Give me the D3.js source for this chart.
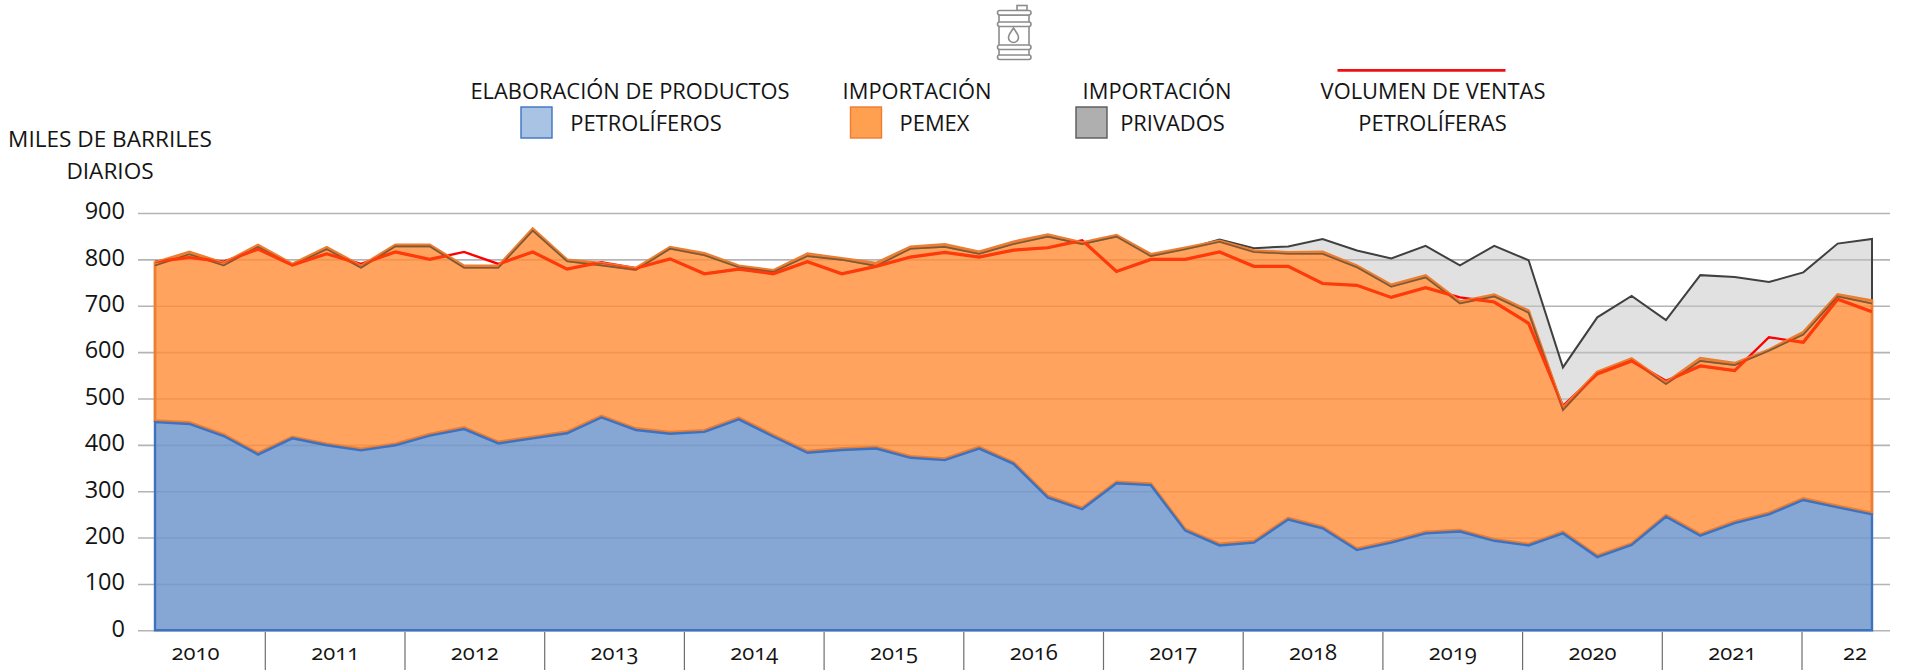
<!DOCTYPE html>
<html>
<head>
<meta charset="utf-8">
<script src="https://cdn.jsdelivr.net/npm/d3@7"></script>
<style>
  body { margin: 0; background: #fff; }
  text { font-family: "Open Sans", sans-serif; fill: #141414; }
</style>
</head>
<body>
<svg width="1912" height="670"></svg>
<script>
// Values, one per quarter from 2010
const elaboracion = [449,445,419,379,414,399,388,399,420,434,403,414,425,459,432,
  424,428,455,418,383,389,392,372,367,392,359,286,261,317,313,215,183,189,
  239,220,173,189,209,213,193,183,209,158,184,245,204,231,250,281,265,250];
const pemexTop = [793,816,792,831,790,826,786,831,831,786,786,866,799,792,781,
  826,813,786,776,812,802,792,827,832,816,838,853,836,852,811,825,840,819,
  815,816,786,745,765,709,724,689,480,557,586,534,587,576,605,643,724,711];
const privadosBase = [787,811,787,827,787,822,782,828,828,782,782,862,796,787,777,
  823,809,783,773,807,799,786,823,827,812,833,849,833,849,807,822,838,816,
  812,812,783,741,761,705,720,685,475,554,582,531,581,572,603,638,720,705];
const privadosTop = [787,811,787,827,787,822,782,828,828,782,782,862,796,787,777,
  823,809,783,773,807,799,786,823,827,812,833,849,833,849,807,822,843,824,
  828,844,819,802,829,787,829,798,567,675,721,669,766,762,751,772,834,844];
const ventas = [795,804,795,822,788,812,790,816,800,816,790,816,779,794,781,
  801,769,779,769,795,769,785,805,815,805,820,825,841,774,800,800,816,785,
  785,748,744,718,739,718,708,662,484,553,581,538,570,560,632,621,714,687];
const quarters = d3.range(elaboracion.length);

const yTicks = [0,100,200,300,400,500,600,700,800,900];
const years = [2010,2011,2012,2013,2014,2015,2016,2017,2018,2019,2020,2021,2022];
const yearLabels = ["2010","2011","2012","2013","2014","2015","2016","2017","2018","2019","2020","2021","22"];

const svg = d3.select("svg");

const x = d3.scaleLinear().domain([0, 50]).range([155, 1872]);
const y = d3.scaleLinear().domain([0, 900]).range([630.3, 213]);
// the year strip is a bit wider than the quarters above it
const xYear = d3.scaleLinear().domain([2010, 2023]).range([125.6, 1941.7]);

// Gridlines and y labels
const yAxis = svg.append("g")
  .attr("transform", "translate(138,0)")
  .call(d3.axisLeft(y).tickValues(yTicks).tickSize(-1752).tickPadding(13));
yAxis.select(".domain").remove();
yAxis.selectAll("line").attr("stroke", "#b4b4b4").attr("stroke-width", 1.6);
yAxis.selectAll("text")
  .attr("font-size", "23.5px")
  .attr("dy", "0.25em")
  .style("font-family", '"Open Sans", sans-serif')
  .attr("fill", "#141414");

// Areas
const grayArea = d3.area().x(i => x(i)).y0(i => y(privadosBase[i])).y1(i => y(privadosTop[i]));
const orangeArea = d3.area().x(i => x(i)).y0(i => y(elaboracion[i]) - 1.5).y1(i => y(pemexTop[i]));
const blueArea = d3.area().x(i => x(i)).y0(y(0)).y1(i => y(elaboracion[i]));
const redLine = d3.line().x(i => x(i)).y(i => y(ventas[i]));
const baseLine = d3.line().x(i => x(i)).y(i => y(privadosBase[i]));

svg.append("path").datum(quarters)
  .attr("d", grayArea)
  .attr("fill", "#c4c4c4").attr("fill-opacity", 0.5)
  .attr("stroke", "#404040").attr("stroke-width", 2);

svg.append("path").datum(quarters)
  .attr("d", redLine)
  .attr("fill", "none").attr("stroke", "#ff0000").attr("stroke-width", 2.4);

svg.append("path").datum(quarters)
  .attr("d", orangeArea)
  .attr("fill", "#ff8c37").attr("fill-opacity", 0.8)
  .attr("stroke", "#ed7d31").attr("stroke-width", 2.8);

// Dark edge of the privados band shows through as brown along the orange top
svg.append("path").datum(quarters)
  .attr("d", baseLine)
  .attr("fill", "none").attr("stroke", "#7a5a38").attr("stroke-width", 1.6);

svg.append("path").datum(quarters)
  .attr("d", blueArea)
  .attr("fill", "#7198cc").attr("fill-opacity", 0.85)
  .attr("stroke", "#3d72c0").attr("stroke-width", 2.4);

// Red line turns thicker and more orange where it runs over the orange area
svg.append("clipPath").attr("id", "insideOrange")
  .append("path").datum(quarters)
  .attr("d", d3.area().x(i => x(i)).y0(y(0)).y1(i => y(pemexTop[i])));
svg.append("path").datum(quarters)
  .attr("d", redLine)
  .attr("clip-path", "url(#insideOrange)")
  .attr("fill", "none").attr("stroke", "#ff3a0a").attr("stroke-width", 3.2);

// Year strip
const strip = svg.append("g");
strip.selectAll("line").data(years.slice(1)).enter().append("line")
  .attr("x1", d => xYear(d)).attr("x2", d => xYear(d))
  .attr("y1", 632).attr("y2", 670)
  .attr("stroke", "#6e6e6e").attr("stroke-width", 1.2);
strip.selectAll("text").data(years).enter().append("text")
  .attr("x", d => (xYear(d) + Math.min(xYear(d + 1), 1908)) / 2)
  .attr("y", 660)
  .attr("text-anchor", "middle")
  .attr("font-size", "22px")
  .style("font-feature-settings", '"onum"')
  .text((d, i) => yearLabels[i]);

// Y title
svg.append("text").attr("x", 110).attr("y", 146.7).attr("text-anchor", "middle")
  .attr("font-size", "22.6px").text("MILES DE BARRILES");
svg.append("text").attr("x", 110).attr("y", 179).attr("text-anchor", "middle")
  .attr("font-size", "22.6px").text("DIARIOS");

// Legend
const legendText = [
  {t: "ELABORACIÓN DE PRODUCTOS", x: 630, y: 98.7},
  {t: "PETROLÍFEROS", x: 646, y: 130.7},
  {t: "IMPORTACIÓN", x: 917, y: 98.7},
  {t: "PEMEX", x: 934.5, y: 130.7},
  {t: "IMPORTACIÓN", x: 1157, y: 98.7},
  {t: "PRIVADOS", x: 1172.5, y: 130.7},
  {t: "VOLUMEN DE VENTAS", x: 1433, y: 98.7},
  {t: "PETROLÍFERAS", x: 1432.5, y: 130.7}
];
svg.selectAll(".legend-label").data(legendText).enter().append("text")
  .attr("class", "legend-label")
  .attr("x", d => d.x).attr("y", d => d.y)
  .attr("text-anchor", "middle")
  .attr("font-size", "21.9px")
  .text(d => d.t);

const swatches = [
  {x: 521, fill: "#a9c3e4", stroke: "#3d72c0"},
  {x: 850.5, fill: "#ff9f50", stroke: "#ed7d31"},
  {x: 1076, fill: "#afafaf", stroke: "#595959"}
];
svg.selectAll(".swatch").data(swatches).enter().append("rect")
  .attr("class", "swatch")
  .attr("x", d => d.x).attr("y", 107)
  .attr("width", 31).attr("height", 31)
  .attr("fill", d => d.fill)
  .attr("stroke", d => d.stroke).attr("stroke-width", 1.4);

svg.append("line")
  .attr("x1", 1337.5).attr("x2", 1505.5).attr("y1", 70.3).attr("y2", 70.3)
  .attr("stroke", "#f01010").attr("stroke-width", 2.8);

// Barrel icon
const icon = svg.append("g").attr("fill", "#fff").attr("stroke", "#8c8c8c").attr("stroke-width", 1.6);
icon.append("rect").attr("x", 1017).attr("y", 5.5).attr("width", 10).attr("height", 5);
icon.append("rect").attr("x", 999).attr("y", 15).attr("width", 30).attr("height", 31);
icon.append("rect").attr("x", 999).attr("y", 47).attr("width", 30).attr("height", 9);
[[997.5, 10.5], [997.5, 22], [997.5, 45], [997.5, 55]].forEach(h => {
  icon.append("rect").attr("x", h[0]).attr("y", h[1]).attr("width", 33.5).attr("height", 4.5).attr("rx", 2.2);
});
icon.append("path").attr("d", "M1013.5 28 C1016 32 1018.5 34.5 1018.5 37.5 A5 5 0 0 1 1008.5 37.5 C1008.5 34.5 1011 32 1013.5 28 Z");
</script>
</body>
</html>
